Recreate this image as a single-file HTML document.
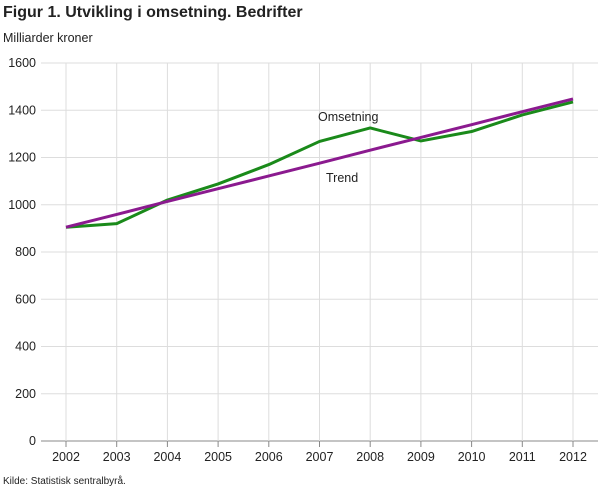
<!DOCTYPE html>
<html><head><meta charset="utf-8"><style>
body{margin:0;background:#fff;font-family:"Liberation Sans",sans-serif}
svg text{font-family:"Liberation Sans",sans-serif}
</style></head><body>
<svg width="610" height="488">
<text x="3" y="17" font-size="16" font-weight="bold" fill="#222">Figur 1. Utvikling i omsetning. Bedrifter</text>
<text x="3" y="42" font-size="12.5" fill="#222">Milliarder kroner</text>
<text x="3" y="484" font-size="10" fill="#222">Kilde: Statistisk sentralbyrå.</text>
<g id="grid"></g><g id="axes"></g><g id="series"></g>
<text x="318" y="121" font-size="12.5" fill="#222">Omsetning</text>
<text x="326" y="182" font-size="12.5" fill="#222">Trend</text>
</svg>
<script>
const years=["2002","2003","2004","2005","2006","2007","2008","2009","2010","2011","2012"];
const omsetning=[905,920,1020,1088,1170,1268,1325,1270,1310,1380,1435];
const trend=[905,959,1014,1068,1122,1176,1231,1285,1339,1394,1448];
const yTicks=[0,200,400,600,800,1000,1200,1400,1600];
const NS="http://www.w3.org/2000/svg";
const x0=66,dx=50.7,left=41,right=598;
const X=i=>x0+i*dx;
const Y=v=>441-v*(378/1600);
function mk(t,a,p){const e=document.createElementNS(NS,t);for(const k in a)e.setAttribute(k,a[k]);p.appendChild(e);return e;}
const g=document.getElementById('grid'),ax=document.getElementById('axes'),s=document.getElementById('series');
yTicks.forEach(v=>{
 const l=mk('line',{x1:left,x2:right,y1:Y(v),y2:Y(v),stroke:v===0?'#888':'#ddd','stroke-width':1},g);
 
 
 const t=mk('text',{x:36,y:Y(v)+4,'text-anchor':'end','font-size':12.5,fill:'#222'},ax);
 t.textContent=v;
 
 
});
years.forEach((y,i)=>{
 const l=mk('line',{x1:X(i),x2:X(i),y1:Y(1600),y2:Y(0),stroke:'#ddd','stroke-width':1},g);
 
 
 const k=mk('line',{x1:X(i),x2:X(i),y1:441,y2:447,stroke:'#888'},ax);
 
 
 const t=mk('text',{x:X(i),y:461,'text-anchor':'middle','font-size':12.5,fill:'#222'},ax);
 t.textContent=y;
 
 
});
function line(d,c,n){
 const p=mk('polyline',{points:d.map((v,i)=>X(i)+','+Y(v)).join(' '),fill:'none',stroke:c,'stroke-width':3,'stroke-linejoin':'round'},s);
 
 
}
line(omsetning,'#1a8a1a','omsetning-line');
line(trend,'#8b1a8f','trend-line');
</script>
</body></html>
